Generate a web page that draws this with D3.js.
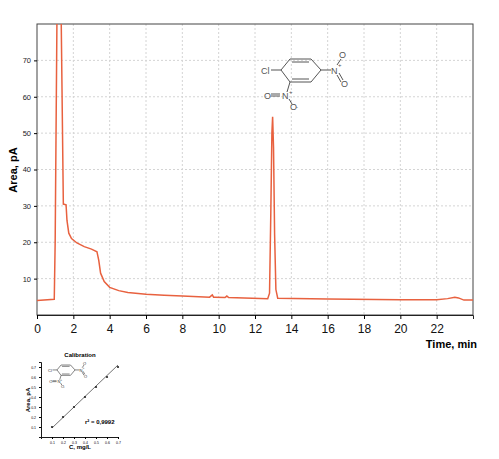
<!DOCTYPE html>
<html lang="en">
<head>
<meta charset="UTF-8" />
<script src="https://d3js.org/d3.v7.min.js"></script>
<style>
  body { margin: 0; background: #fff; font-family: "Liberation Sans", Arial, sans-serif; }
</style>
</head>
<body>
<svg id="chart" width="499" height="459"></svg>
<script>
  // chromatogram trace (time in min, signal in pA)
  const timeMin = [0, 0.95, 1.0, 1.12, 1.3, 1.45, 1.6, 1.65, 1.75, 1.9, 2.2, 2.6, 3.0, 3.3, 3.4, 3.5, 3.7, 4.0, 4.5, 5, 6, 7, 8, 9.5, 9.65, 9.72, 9.8, 10.35, 10.45, 10.55, 12.7, 12.8, 12.87, 12.93, 12.97, 13.02, 13.08, 13.15, 13.25, 16, 20, 22, 22.6, 23.0, 23.2, 23.5, 24];
  const signalPA = [4, 4.3, 20, 95, 95, 30.5, 30.3, 26, 22.5, 21, 19.8, 18.8, 18.1, 17.4, 15, 11.5, 9.2, 7.6, 6.7, 6.2, 5.7, 5.4, 5.2, 4.9, 5.5, 4.9, 4.9, 4.8, 5.2, 4.8, 4.5, 6, 28, 50, 54.5, 46, 22, 7, 4.6, 4.4, 4.2, 4.2, 4.5, 4.9, 4.7, 4.1, 4.1];
  const xTicks = [0, 2, 4, 6, 8, 10, 12, 14, 16, 18, 20, 22];
  const yTicks = [10, 20, 30, 40, 50, 60, 70];

  // calibration inset
  const calConc = [0.1, 0.2, 0.3, 0.4, 0.5, 0.6, 0.7];
  const calArea = [0.1, 0.2, 0.3, 0.4, 0.5, 0.6, 0.7];
  const calTicks = [0.1, 0.2, 0.3, 0.4, 0.5, 0.6, 0.7];

  const svg = d3.select("#chart");
  const red = "#e8613f";

  const x = d3.scaleLinear().domain([0, 24]).range([37, 473]);
  const y = d3.scaleLinear().domain([0, 80]).range([315, 24]);

  // grid
  svg.append("g").selectAll("line").data(xTicks.filter(d => d > 0)).join("line")
    .attr("x1", d => x(d)).attr("x2", d => x(d)).attr("y1", 24).attr("y2", 315)
    .attr("stroke", "#d4d4d4").attr("stroke-dasharray", "2,2");
  svg.append("g").selectAll("line").data(yTicks).join("line")
    .attr("x1", 37).attr("x2", 473).attr("y1", d => y(d)).attr("y2", d => y(d))
    .attr("stroke", "#d4d4d4").attr("stroke-dasharray", "2,2");

  svg.append("rect").attr("x", 37).attr("y", 24).attr("width", 436).attr("height", 291)
    .attr("fill", "none").attr("stroke", "#444").attr("stroke-width", 1);

  svg.append("clipPath").attr("id", "clip").append("rect")
    .attr("x", 37).attr("y", 24).attr("width", 436).attr("height", 291);

  svg.append("path").datum(timeMin.map((t, i) => [t, signalPA[i]]))
    .attr("clip-path", "url(#clip)")
    .attr("fill", "none").attr("stroke", red).attr("stroke-width", 1.5)
    .attr("d", d3.line().x(d => x(d[0])).y(d => y(d[1])));

  const xAxis = svg.append("g").attr("transform", "translate(0,315)")
    .call(d3.axisBottom(x).tickValues(xTicks).tickSize(4).tickFormat(d3.format("d")));
  xAxis.select(".domain").attr("stroke", "#222");
  xAxis.selectAll("text").attr("font-size", 12).attr("fill", "#111").attr("dy", "0.9em");

  const yAxis = svg.append("g").attr("transform", "translate(37,0)")
    .call(d3.axisLeft(y).tickValues(yTicks).tickSize(3));
  yAxis.select(".domain").remove();
  yAxis.selectAll("text").attr("font-size", 7.5).attr("fill", "#222");

  svg.append("text").attr("transform", "translate(17,170) rotate(-90)")
    .attr("text-anchor", "middle").attr("font-size", 11).attr("font-weight", "bold").text("Area, pA");
  svg.append("text").attr("x", 477).attr("y", 348).attr("text-anchor", "end")
    .attr("font-size", 11).attr("font-weight", "bold").text("Time, min");

  // structure drawing helper
  function molecule(g, s, col) {
    const w = Math.max(1 * s, 0.6);
    const ring = [[9, 0], [30, 0], [40, 11], [30, 23], [9, 23], [0, 11]];
    g.append("path").attr("d", d3.line()(ring.concat([ring[0]]).map(p => [p[0] * s, p[1] * s])))
      .attr("fill", "none").attr("stroke", col).attr("stroke-width", w);
    const seg = [[[11, 3], [28, 3]], [[28, 20], [11, 20]], [[0, 11], [-10, 11]], [[40, 11], [50, 11]],
      [[56, 6], [60, 0]], [[56, 16], [60, 23]], [[58, 14], [62, 21]], [[9, 23], [6, 33]],
      [[-1, 35], [-10, 35]], [[-1, 37], [-10, 37]], [[8, 40], [11, 45]]];
    seg.forEach(l => g.append("line")
      .attr("x1", l[0][0] * s).attr("y1", l[0][1] * s).attr("x2", l[1][0] * s).attr("y2", l[1][1] * s)
      .attr("stroke", col).attr("stroke-width", w));
    const labels = [["Cl", -20, 15], ["N", 50, 15], ["O", 58, -1], ["O", 60, 28], ["N", 1, 40], ["O", -17, 40], ["O", 9, 51]];
    labels.forEach(l => g.append("text").attr("x", l[1] * s).attr("y", l[2] * s)
      .attr("font-size", 9 * s).attr("fill", col).text(l[0]));
    [[57, 8, "+"], [8, 35, "+"], [15, 50, "-"]].forEach(p => g.append("text").attr("x", p[0] * s).attr("y", p[1] * s)
      .attr("font-size", 6 * s).attr("fill", col).text(p[2]));
  }
  molecule(svg.append("g").attr("transform", "translate(281,59)"), 1, "#555");

  // calibration inset
  const ix = d3.scaleLinear().domain([0, 0.7]).range([41, 118]);
  const iy = d3.scaleLinear().domain([0, 0.75]).range([437, 362]);
  const inset = svg.append("g");
  inset.append("text").attr("x", 80).attr("y", 357).attr("text-anchor", "middle")
    .attr("font-size", 6).attr("font-weight", "bold").text("Calibration");
  const ia = inset.append("g").attr("transform", "translate(0,437)")
    .call(d3.axisBottom(ix).tickValues(calTicks).tickSize(2).tickFormat(d3.format(".1f")));
  const il = inset.append("g").attr("transform", "translate(41,0)")
    .call(d3.axisLeft(iy).tickValues(calTicks).tickSize(2).tickFormat(d3.format(".1f")));
  [ia, il].forEach(a => { a.selectAll("text").attr("font-size", 3.5); a.select(".domain").attr("stroke-width", 0.9); });
  inset.append("line").attr("x1", ix(0.1)).attr("y1", iy(calArea[0] - 0.01))
    .attr("x2", ix(0.7)).attr("y2", iy(0.72)).attr("stroke", "#333").attr("stroke-width", 0.7);
  inset.selectAll("circle").data(calConc).join("circle")
    .attr("cx", d => ix(d)).attr("cy", (d, i) => iy(calArea[i])).attr("r", 1.1).attr("fill", "#222");
  inset.append("text").attr("x", 85).attr("y", 424).attr("font-size", 6).attr("font-weight", "bold").text("r² = 0,9992");
  inset.append("text").attr("x", 80).attr("y", 449).attr("text-anchor", "middle")
    .attr("font-size", 6).attr("font-weight", "bold").text("C, mg/L");
  inset.append("text").attr("transform", "translate(30,400) rotate(-90)").attr("text-anchor", "middle")
    .attr("font-size", 6).attr("font-weight", "bold").text("Area, pA");
  molecule(inset.append("g").attr("transform", "translate(57,365)"), 0.45, "#333");
</script>
</body>
</html>
